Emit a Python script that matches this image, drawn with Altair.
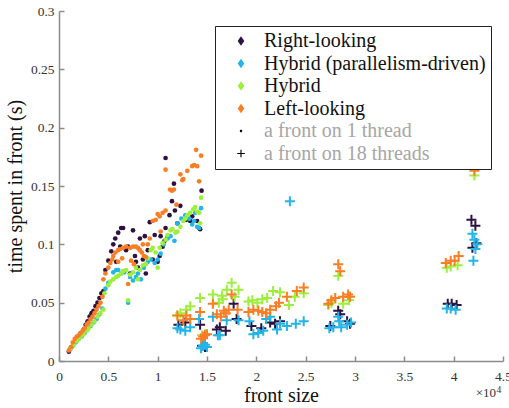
import altair as alt
import pandas as pd

FONT = "Liberation Serif"

SERIES = ["Right-looking", "Hybrid (parallelism-driven)", "Hybrid", "Left-looking"]
MARKER_KEYS = ["a front on 1 thread", "a front on 18 threads"]
COLORS = ["#2d1140", "#23b4e8", "#9cf03c", "#fb7d24"]
x_exponent_base = "×10"
x_exponent_power = "4"

# ---- one thread (dots): front size (x 10^4), time (s)
rl1_x = [0.10,0.12,0.15,0.18,0.20,0.22,0.25,0.27,0.29,0.31,0.33,0.35,0.37,0.39,0.41,0.43,0.45,0.47,0.50,0.53,
         0.55,0.57,0.58,0.60,0.62,0.63,0.65,0.68,0.70,0.72,0.75,0.77,0.78,0.80,0.82,0.85,0.87,0.88,0.90,0.92,
         0.95,0.97,1.00,1.02,1.03,1.05,1.07,1.08,1.08,1.10,1.12,1.145,1.165,1.175,1.20,1.23,1.29,1.33,1.35,1.40,
         1.42,1.43,1.445]
rl1_y = [0.008,0.011,0.015,0.019,0.021,0.024,0.027,0.031,0.034,0.038,0.041,0.043,0.047,0.050,0.054,0.058,0.060,0.078,0.086,0.094,
         0.100,0.105,0.085,0.110,0.098,0.114,0.114,0.095,0.098,0.075,0.112,0.090,0.085,0.080,0.105,0.087,0.107,0.075,0.095,0.119,
         0.087,0.108,0.085,0.090,0.107,0.098,0.103,0.114,0.174,0.106,0.125,0.137,0.152,0.129,0.118,0.133,0.121,0.120,0.124,0.120,
         0.114,0.113,0.146]

hp1_x = [0.11,0.14,0.17,0.20,0.23,0.26,0.29,0.32,0.35,0.38,0.41,0.44,0.47,0.50,0.55,0.58,0.60,0.63,0.66,0.70,
         0.72,0.75,0.78,0.80,0.83,0.86,0.90,0.93,0.97,1.00,1.03,1.06,1.10,1.13,1.17,1.20,1.24,1.28,1.32,1.35,
         1.37,1.38,1.40,1.42,1.44]
hp1_y = [0.010,0.013,0.016,0.019,0.021,0.024,0.027,0.030,0.033,0.036,0.040,0.045,0.062,0.067,0.076,0.078,0.078,0.075,0.076,0.050,
         0.072,0.069,0.072,0.075,0.070,0.080,0.085,0.087,0.084,0.087,0.092,0.100,0.105,0.107,0.103,0.118,0.122,0.125,0.122,0.117,
         0.120,0.127,0.115,0.114,0.131]

hy1_x = [0.12,0.15,0.18,0.20,0.22,0.25,0.28,0.30,0.33,0.36,0.39,0.42,0.45,0.46,0.50,0.52,0.55,0.58,0.60,0.63,
         0.65,0.68,0.70,0.72,0.75,0.78,0.80,0.82,0.85,0.88,0.90,0.93,0.95,0.98,1.00,1.02,1.05,1.08,1.10,1.13,
         1.15,1.18,1.20,1.23,1.26,1.28,1.30,1.33,1.36,1.38,1.40,1.42,1.43,1.44]
hy1_y = [0.011,0.014,0.017,0.019,0.021,0.023,0.026,0.028,0.031,0.034,0.038,0.041,0.044,0.058,0.065,0.068,0.070,0.072,0.073,0.075,
         0.077,0.078,0.052,0.074,0.076,0.080,0.070,0.078,0.082,0.083,0.088,0.095,0.097,0.093,0.080,0.097,0.101,0.104,0.108,0.112,
         0.113,0.110,0.111,0.115,0.120,0.122,0.125,0.127,0.130,0.132,0.128,0.127,0.118,0.140]

ll1_x = [0.10,0.12,0.14,0.16,0.18,0.20,0.22,0.24,0.26,0.28,0.30,0.32,0.34,0.36,0.38,0.40,0.42,0.44,0.45,0.47,
         0.50,0.52,0.54,0.55,0.57,0.60,0.60,0.62,0.64,0.65,0.68,0.70,0.72,0.73,0.75,0.76,0.78,0.80,0.82,0.84,
         0.85,0.86,0.88,0.90,0.92,0.95,0.98,1.00,1.02,1.03,1.05,1.08,1.08,1.125,1.145,1.165,1.19,1.23,1.25,1.26,
         1.30,1.35,1.37,1.39,1.40,1.42,1.44]
ll1_y = [0.009,0.012,0.016,0.019,0.021,0.022,0.024,0.026,0.028,0.031,0.033,0.036,0.038,0.041,0.044,0.047,0.050,0.055,0.070,0.075,
         0.080,0.084,0.087,0.090,0.093,0.095,0.085,0.096,0.088,0.097,0.098,0.066,0.097,0.086,0.098,0.083,0.098,0.097,0.095,0.093,
         0.100,0.090,0.089,0.100,0.105,0.120,0.121,0.126,0.124,0.111,0.127,0.129,0.164,0.147,0.146,0.147,0.134,0.160,0.155,0.156,
         0.163,0.167,0.168,0.181,0.167,0.154,0.176]

# ---- 18 threads (crosses)
rl18_x = [1.21,1.28,1.43,1.45,1.48,1.60,1.63,1.69,1.77,1.80,1.95,2.05,2.14,2.19,2.24,2.75,2.83,2.85,2.92,2.95,
          3.94,3.98,4.03,4.18,4.22,4.19,4.23]
rl18_y = [0.031,0.033,0.031,0.013,0.012,0.027,0.029,0.026,0.049,0.036,0.030,0.028,0.033,0.032,0.034,0.030,0.043,0.040,0.034,0.032,
          0.049,0.049,0.048,0.121,0.116,0.097,0.101]

hp18_x = [1.20,1.23,1.28,1.33,1.42,1.44,1.46,1.48,1.50,1.56,1.61,1.63,1.70,1.82,1.93,1.97,2.02,2.07,2.10,2.14,
          2.21,2.24,2.31,2.34,2.40,2.48,2.74,2.78,2.83,2.84,2.86,2.92,2.96,3.93,3.97,4.02,4.19,4.21,4.22,4.24,
          4.20]
hp18_y = [0.028,0.027,0.026,0.029,0.036,0.011,0.013,0.014,0.012,0.038,0.022,0.022,0.035,0.035,0.034,0.023,0.024,0.026,0.036,0.038,
          0.027,0.032,0.030,0.137,0.032,0.034,0.028,0.029,0.038,0.034,0.029,0.031,0.033,0.045,0.045,0.044,0.109,0.104,0.096,0.100,
          0.086]

hy18_x = [1.20,1.23,1.29,1.33,1.43,1.45,1.48,1.56,1.62,1.65,1.66,1.70,1.75,1.78,1.82,1.92,1.96,2.01,2.06,2.11,
          2.17,2.24,2.33,2.39,2.48,2.73,2.76,2.83,2.88,2.94,3.93,3.97,4.04,4.21]
hy18_y = [0.039,0.041,0.044,0.047,0.054,0.022,0.023,0.057,0.050,0.056,0.053,0.061,0.067,0.055,0.061,0.051,0.052,0.050,0.053,0.054,
          0.060,0.059,0.048,0.055,0.058,0.048,0.050,0.073,0.049,0.052,0.080,0.081,0.082,0.159]

ll18_x = [1.20,1.26,1.29,1.33,1.43,1.44,1.46,1.48,1.50,1.56,1.60,1.64,1.67,1.69,1.72,1.75,1.81,1.92,1.97,2.02,
          2.06,2.10,2.14,2.20,2.23,2.31,2.41,2.48,2.73,2.76,2.80,2.83,2.85,2.88,2.93,2.95,3.92,3.97,4.01,4.05,
          4.21]
ll18_y = [0.039,0.035,0.039,0.036,0.042,0.019,0.021,0.022,0.023,0.049,0.040,0.038,0.043,0.041,0.044,0.057,0.044,0.042,0.044,0.043,
          0.042,0.041,0.044,0.047,0.050,0.055,0.060,0.063,0.049,0.052,0.054,0.083,0.077,0.055,0.057,0.055,0.084,0.086,0.086,0.090,
          0.163]

x_ticks = [0, 0.5, 1, 1.5, 2, 2.5, 3, 3.5, 4, 4.5]
y_ticks = [0, 0.05, 0.1, 0.15, 0.2, 0.25, 0.3]


def frame(xs, ys, name):
    return pd.DataFrame({"x": xs, "y": ys, "series": name})


dots = pd.concat([frame(rl1_x, rl1_y, SERIES[0]), frame(hp1_x, hp1_y, SERIES[1]),
                  frame(hy1_x, hy1_y, SERIES[2]), frame(ll1_x, ll1_y, SERIES[3])], ignore_index=True)
crosses = pd.concat([frame(rl18_x, rl18_y, SERIES[0]), frame(hp18_x, hp18_y, SERIES[1]),
                     frame(hy18_x, hy18_y, SERIES[2]), frame(ll18_x, ll18_y, SERIES[3])], ignore_index=True)
legend_df = pd.DataFrame({"series": SERIES + MARKER_KEYS})
exp_base_df = pd.DataFrame({"label": [x_exponent_base]})
exp_pow_df = pd.DataFrame({"label": [x_exponent_power]})

domain = SERIES + MARKER_KEYS
DIAMOND = "M0,-1L0.7,0L0,1L-0.7,0Z"
DOT = "M-0.26,0A0.26,0.26 0 1,0 0.26,0A0.26,0.26 0 1,0 -0.26,0Z"
CROSS_LEG = "M-0.8,-0.12H0.8V0.12H-0.8Z M-0.12,-0.8H0.12V0.8H-0.12Z"
CROSS = "M-1,-0.2H1V0.2H-1Z M-0.2,-1H0.2V1H-0.2Z"

color_scale = alt.Scale(domain=domain, range=COLORS + ["#000000", "#000000"])
shape_scale = alt.Scale(domain=domain, range=[DIAMOND] * 4 + [DOT, CROSS_LEG])

AX_GRAY = "#8c8c8c"
x_axis = alt.Axis(values=x_ticks, format="~g", grid=False, domainColor=AX_GRAY, domainWidth=1.5,
                  tickColor=AX_GRAY, tickWidth=1.5, tickSize=alt.ExprRef(expr="-5"), labelPadding=13,
                  labelFlush=False, labelOverlap=False,
                  labelFont=FONT, labelFontSize=13.5, labelColor="#333333",
                  titleFont=FONT, titleFontSize=20, titleFontWeight="normal", titleColor="#111111",
                  titleX=222, titleY=40, titleBaseline="alphabetic")
y_axis = alt.Axis(values=y_ticks, format="~g", grid=False, domainColor=AX_GRAY, domainWidth=1.5,
                  tickColor=AX_GRAY, tickWidth=1.5, tickSize=alt.ExprRef(expr="-5"), labelPadding=10,
                  labelFlush=False, labelOverlap=False,
                  labelFont=FONT, labelFontSize=13.5, labelColor="#333333",
                  titleFont=FONT, titleFontSize=20, titleFontWeight="normal", titleColor="#111111",
                  titleAngle=270, titleX=-38, titleY=175, titleBaseline="alphabetic", titleAlign="center")

x_enc = alt.X("x:Q", scale=alt.Scale(domain=[0, 4.5], nice=False, zero=False), axis=x_axis, title="front size")
y_enc = alt.Y("y:Q", scale=alt.Scale(domain=[0, 0.3], nice=False), axis=y_axis, title="time spent in front (s)")

legend = alt.Legend(
    title=None, orient="none", legendX=156, legendY=15, padding=5,
    strokeColor="#222222", fillColor="white", symbolSize=90, symbolStrokeWidth=0,
    symbolOffset=11, labelOffset=13, rowPadding=2.5, labelFont=FONT, labelFontSize=20,
    labelLimit=400,
    labelColor=alt.ExprRef(expr="datum.index >= 4 ? '#a6a6a6' : '#111111'"),
)

legend_layer = alt.Chart(legend_df).mark_point(filled=True, opacity=1).encode(
    color=alt.Color("series:N", scale=color_scale, legend=legend),
    shape=alt.Shape("series:N", scale=shape_scale, legend=legend),
).transform_filter("false")
dot_layer = alt.Chart(dots).mark_circle(size=22, opacity=1).encode(
    x=x_enc, y=y_enc, color=alt.Color("series:N", scale=color_scale))
cross_layer = alt.Chart(crosses).mark_point(shape=CROSS, filled=True, size=100, opacity=1).encode(
    x=x_enc, y=y_enc, color=alt.Color("series:N", scale=color_scale))
exp_base_layer = alt.Chart(exp_base_df).mark_text(font=FONT, fontSize=13, align="right", baseline="alphabetic",
                                                   color="#333333").encode(
    x=alt.value(437), y=alt.value(386), text="label:N")
exp_pow_layer = alt.Chart(exp_pow_df).mark_text(font=FONT, fontSize=9.5, align="left", baseline="alphabetic",
                                                 color="#333333").encode(
    x=alt.value(437.5), y=alt.value(382), text="label:N")

chart = alt.layer(legend_layer, dot_layer, cross_layer, exp_base_layer, exp_pow_layer).properties(
    width=444, height=350,
    padding={"left": 59, "top": 11, "right": 6, "bottom": 47},
    autosize=alt.AutoSizeParams(type="none"),
).configure_view(strokeWidth=0)

chart.save("out.html", embed_options={"renderer": "svg", "actions": False})
